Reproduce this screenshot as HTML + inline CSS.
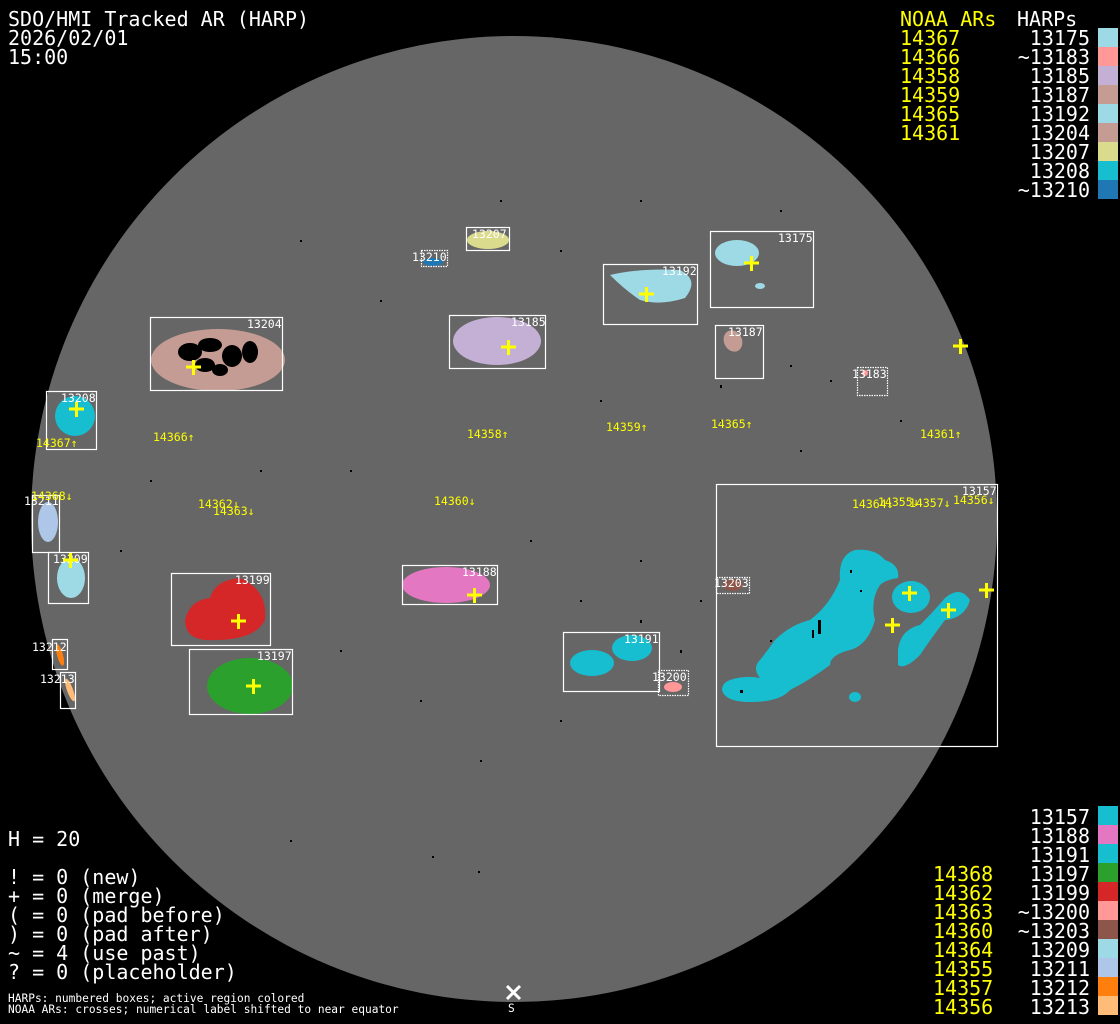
<!DOCTYPE html>
<html><head><meta charset="utf-8"><style>
html,body{margin:0;padding:0;background:#000;}
svg{display:block;}
text{font-family:"DejaVu Sans Mono","Liberation Mono",monospace;}
</style></head><body>
<svg width="1120" height="1024" viewBox="0 0 1120 1024" xmlns="http://www.w3.org/2000/svg">
<rect width="1120" height="1024" fill="#000"/>
<circle cx="514" cy="519" r="483" fill="#666"/>

<!-- speckles -->
<g fill="#000">
<rect x="300" y="240" width="2" height="2"/><rect x="380" y="300" width="2" height="2"/><rect x="560" y="250" width="2" height="2"/>
<rect x="600" y="400" width="2" height="2"/><rect x="350" y="470" width="2" height="2"/><rect x="530" y="540" width="2" height="2"/>
<rect x="640" y="560" width="2" height="2"/><rect x="700" y="600" width="2" height="2"/><rect x="580" y="600" width="2" height="2"/>
<rect x="340" y="650" width="2" height="2"/><rect x="420" y="700" width="2" height="2"/><rect x="480" y="760" width="2" height="2"/>
<rect x="560" y="720" width="2" height="2"/><rect x="640" y="620" width="2" height="3"/><rect x="680" y="650" width="2" height="3"/>
<rect x="720" y="420" width="2" height="2"/><rect x="800" y="450" width="2" height="2"/><rect x="830" y="380" width="2" height="2"/>
<rect x="290" y="840" width="2" height="2"/><rect x="432" y="856" width="2" height="2"/><rect x="478" y="871" width="2" height="2"/>
<rect x="120" y="550" width="2" height="2"/><rect x="150" y="480" width="2" height="2"/><rect x="260" y="470" width="2" height="2"/>
<rect x="720" y="385" width="2" height="3"/><rect x="790" y="365" width="2" height="2"/><rect x="900" y="420" width="2" height="2"/>
<rect x="500" y="200" width="2" height="2"/><rect x="640" y="200" width="2" height="2"/><rect x="780" y="210" width="2" height="2"/>
</g>

<!-- regions -->
<g stroke="none">
<ellipse cx="218" cy="360" rx="67" ry="31" fill="#c49c94"/>
<g fill="#000">
<ellipse cx="190" cy="352" rx="12" ry="9"/>
<ellipse cx="210" cy="345" rx="12" ry="7"/>
<ellipse cx="232" cy="356" rx="10" ry="11"/>
<ellipse cx="250" cy="352" rx="8" ry="11"/>
<ellipse cx="205" cy="365" rx="10" ry="7"/>
<ellipse cx="220" cy="370" rx="8" ry="6"/>
</g>
<ellipse cx="488" cy="240" rx="21" ry="9" fill="#dbdb8d"/>
<ellipse cx="433" cy="262" rx="10" ry="4" fill="#1f77b4"/>
<ellipse cx="497" cy="341" rx="44" ry="24" fill="#c5b0d5"/>
<path d="M610 275 Q640 268 680 270 Q700 280 685 298 Q660 306 640 300 Q625 290 610 275Z" fill="#9edae5"/>
<ellipse cx="737" cy="253" rx="22" ry="13" fill="#9edae5"/>
<ellipse cx="760" cy="286" rx="5" ry="3" fill="#9edae5"/>
<ellipse cx="733" cy="341" rx="9" ry="11" fill="#c49c94" transform="rotate(-25 733 341)"/>
<circle cx="865" cy="373" r="3" fill="#ff9896"/>
<ellipse cx="75" cy="416" rx="20" ry="20" fill="#17becf"/>
<ellipse cx="48" cy="522" rx="10" ry="20" fill="#aec7e8"/>
<ellipse cx="71" cy="578" rx="14" ry="20" fill="#9edae5"/>
<path d="M185 620 Q190 600 210 598 Q215 580 240 578 Q268 590 265 620 Q255 640 215 640 Q185 642 185 620Z" fill="#d62728"/>
<ellipse cx="250" cy="686" rx="43" ry="28" fill="#2ca02c"/>
<ellipse cx="60" cy="655" rx="3" ry="11" fill="#ff7f0e" transform="rotate(-15 60 655)"/>
<ellipse cx="70" cy="690" rx="3" ry="12" fill="#ffbb78" transform="rotate(-20 70 690)"/>
<ellipse cx="446" cy="585" rx="44" ry="18" fill="#e377c2"/>
<ellipse cx="592" cy="663" rx="22" ry="13" fill="#17becf"/>
<ellipse cx="632" cy="648" rx="20" ry="13" fill="#17becf"/>
<ellipse cx="673" cy="687" rx="9" ry="5" fill="#ff9896"/>
<ellipse cx="733" cy="585" rx="10" ry="6" fill="#8c564b"/>
<!-- 13157 big cyan -->
<path d="M730 680 Q745 675 760 678 Q752 668 760 660 Q768 650 775 640 Q790 625 810 620 Q830 605 840 580 Q838 555 855 550 Q875 548 885 560 Q900 565 898 578 Q885 580 880 585 Q870 600 875 620 Q868 645 850 650 Q830 655 830 665 Q810 680 790 690 Q780 702 750 702 Q725 702 722 690 Q722 683 730 680Z" fill="#17becf"/>
<ellipse cx="911" cy="597" rx="19" ry="16" fill="#17becf"/>
<path d="M898 650 Q900 630 920 625 Q935 610 945 598 Q960 585 970 600 Q965 618 945 620 Q930 640 920 655 Q905 670 898 665Z" fill="#17becf"/>
<ellipse cx="855" cy="697" rx="6" ry="5" fill="#17becf"/>
<g fill="#000">
<rect x="818" y="620" width="3" height="14"/><rect x="812" y="630" width="2" height="8"/><rect x="770" y="640" width="2" height="2"/>
<rect x="850" y="570" width="2" height="3"/><rect x="860" y="590" width="2" height="2"/><rect x="740" y="690" width="3" height="3"/>
</g>
</g>

<!-- boxes -->
<g fill="none" stroke="#fff" stroke-width="1.2">
<rect x="150.5" y="317.5" width="132" height="73"/>
<rect x="466.5" y="227.5" width="43" height="23"/>
<rect x="421.5" y="250.5" width="26" height="16" stroke-dasharray="1.5 1"/>
<rect x="449.5" y="315.5" width="96" height="53"/>
<rect x="603.5" y="264.5" width="94" height="60"/>
<rect x="710.5" y="231.5" width="103" height="76"/>
<rect x="715.5" y="325.5" width="48" height="53"/>
<rect x="857.5" y="367.5" width="30" height="28" stroke-dasharray="1.5 1"/>
<rect x="46.5" y="391.5" width="50" height="58"/>
<rect x="32.5" y="495.5" width="27" height="57"/>
<rect x="48.5" y="552.5" width="40" height="51"/>
<rect x="171.5" y="573.5" width="99" height="72"/>
<rect x="189.5" y="649.5" width="103" height="65"/>
<rect x="52.5" y="639.5" width="15" height="30"/>
<rect x="60.5" y="672.5" width="15" height="36"/>
<rect x="402.5" y="565.5" width="95" height="39"/>
<rect x="563.5" y="632.5" width="96" height="59"/>
<rect x="658.5" y="670.5" width="30" height="25" stroke-dasharray="1.5 1"/>
<rect x="716.5" y="484.5" width="281" height="262"/>
<rect x="716.5" y="577.5" width="33" height="16" stroke-dasharray="1.5 1"/>
</g>

<!-- box labels -->
<g fill="#fff" font-size="11.5">
<text x="247" y="328">13204</text>
<text x="472" y="238">13207</text>
<text x="412" y="261">13210</text>
<text x="511" y="326">13185</text>
<text x="662" y="275">13192</text>
<text x="778" y="242">13175</text>
<text x="728" y="336">13187</text>
<text x="852" y="378">13183</text>
<text x="61" y="402">13208</text>
<text x="24" y="505">13211</text>
<text x="53" y="563">13209</text>
<text x="235" y="584">13199</text>
<text x="257" y="660">13197</text>
<text x="32" y="651">13212</text>
<text x="40" y="683">13213</text>
<text x="462" y="576">13188</text>
<text x="624" y="643">13191</text>
<text x="652" y="681">13200</text>
<text x="962" y="495">13157</text>
<text x="714" y="587">13203</text>
</g>

<!-- crosses -->
<g stroke="#ff0" stroke-width="3" fill="none">
<path d="M186 367h15M193.5 360v15"/>
<path d="M501 347h15M508.5 340v15"/>
<path d="M639 294h15M646.5 287v15"/>
<path d="M744 263h15M751.5 256v15"/>
<path d="M953 346h15M960.5 339v15"/>
<path d="M69 409h15M76.5 402v15"/>
<path d="M63 560h15M70.5 553v15"/>
<path d="M231 621h15M238.5 614v15"/>
<path d="M246 686h15M253.5 679v15"/>
<path d="M467 595h15M474.5 588v15"/>
<path d="M902 593h15M909.5 586v15"/>
<path d="M941 610h15M948.5 603v15"/>
<path d="M885 625h15M892.5 618v15"/>
<path d="M979 590h15M986.5 583v15"/>
</g>

<!-- NOAA labels -->
<g fill="#ff0" font-size="11.5">
<text x="36" y="447">14367↑</text>
<text x="153" y="441">14366↑</text>
<text x="467" y="438">14358↑</text>
<text x="606" y="431">14359↑</text>
<text x="711" y="428">14365↑</text>
<text x="920" y="438">14361↑</text>
<text x="31" y="500">14368↓</text>
<text x="198" y="508">14362↓</text>
<text x="213" y="515">14363↓</text>
<text x="434" y="505">14360↓</text>
<text x="852" y="508">14364↓</text>
<text x="878" y="506">14355↓</text>
<text x="909" y="507">14357↓</text>
<text x="953" y="504">14356↓</text>
</g>

<!-- header -->
<g fill="#fff" font-size="20">
<text x="8" y="26">SDO/HMI Tracked AR (HARP)</text>
<text x="8" y="45">2026/02/01</text>
<text x="8" y="64">15:00</text>
<text x="1017" y="26">HARPs</text>
</g>
<g fill="#ff0" font-size="20">
<text x="900" y="26">NOAA ARs</text>
<text x="900" y="45">14367</text>
<text x="900" y="64">14366</text>
<text x="900" y="83">14358</text>
<text x="900" y="102">14359</text>
<text x="900" y="121">14365</text>
<text x="900" y="140">14361</text>
</g>
<g fill="#fff" font-size="20" text-anchor="end">
<text x="1090" y="45">13175</text>
<text x="1090" y="64">~13183</text>
<text x="1090" y="83">13185</text>
<text x="1090" y="102">13187</text>
<text x="1090" y="121">13192</text>
<text x="1090" y="140">13204</text>
<text x="1090" y="159">13207</text>
<text x="1090" y="178">13208</text>
<text x="1090" y="197">~13210</text>
</g>
<g>
<rect x="1098" y="28" width="20" height="19" fill="#9edae5"/>
<rect x="1098" y="47" width="20" height="19" fill="#ff9896"/>
<rect x="1098" y="66" width="20" height="19" fill="#c5b0d5"/>
<rect x="1098" y="85" width="20" height="19" fill="#c49c94"/>
<rect x="1098" y="104" width="20" height="19" fill="#9edae5"/>
<rect x="1098" y="123" width="20" height="19" fill="#c49c94"/>
<rect x="1098" y="142" width="20" height="19" fill="#dbdb8d"/>
<rect x="1098" y="161" width="20" height="19" fill="#17becf"/>
<rect x="1098" y="180" width="20" height="19" fill="#1f77b4"/>
</g>

<!-- bottom-right legend -->
<g fill="#fff" font-size="20" text-anchor="end">
<text x="1090" y="824">13157</text>
<text x="1090" y="843">13188</text>
<text x="1090" y="862">13191</text>
<text x="1090" y="881">13197</text>
<text x="1090" y="900">13199</text>
<text x="1090" y="919">~13200</text>
<text x="1090" y="938">~13203</text>
<text x="1090" y="957">13209</text>
<text x="1090" y="976">13211</text>
<text x="1090" y="995">13212</text>
<text x="1090" y="1014">13213</text>
</g>
<g fill="#ff0" font-size="20">
<text x="933" y="881">14368</text>
<text x="933" y="900">14362</text>
<text x="933" y="919">14363</text>
<text x="933" y="938">14360</text>
<text x="933" y="957">14364</text>
<text x="933" y="976">14355</text>
<text x="933" y="995">14357</text>
<text x="933" y="1014">14356</text>
</g>
<g>
<rect x="1098" y="806" width="20" height="19" fill="#17becf"/>
<rect x="1098" y="825" width="20" height="19" fill="#e377c2"/>
<rect x="1098" y="844" width="20" height="19" fill="#17becf"/>
<rect x="1098" y="863" width="20" height="19" fill="#2ca02c"/>
<rect x="1098" y="882" width="20" height="19" fill="#d62728"/>
<rect x="1098" y="901" width="20" height="19" fill="#ff9896"/>
<rect x="1098" y="920" width="20" height="19" fill="#8c564b"/>
<rect x="1098" y="939" width="20" height="19" fill="#9edae5"/>
<rect x="1098" y="958" width="20" height="19" fill="#aec7e8"/>
<rect x="1098" y="977" width="20" height="19" fill="#ff7f0e"/>
<rect x="1098" y="996" width="20" height="19" fill="#ffbb78"/>
</g>

<!-- bottom-left -->
<g fill="#fff" font-size="20">
<text x="8" y="846">H = 20</text>
<text x="8" y="884">! = 0 (new)</text>
<text x="8" y="903">+ = 0 (merge)</text>
<text x="8" y="922">( = 0 (pad before)</text>
<text x="8" y="941">) = 0 (pad after)</text>
<text x="8" y="960">~ = 4 (use past)</text>
<text x="8" y="979">? = 0 (placeholder)</text>
</g>
<g fill="#fff" font-size="11.2">
<text x="8" y="1002">HARPs: numbered boxes; active region colored</text>
<text x="8" y="1013">NOAA ARs: crosses; numerical label shifted to near equator</text>
<text x="508" y="1012">S</text>
</g>
<path d="M507 986l13 13M520 986l-13 13" stroke="#fff" stroke-width="3"/>
</svg>
</body></html>
